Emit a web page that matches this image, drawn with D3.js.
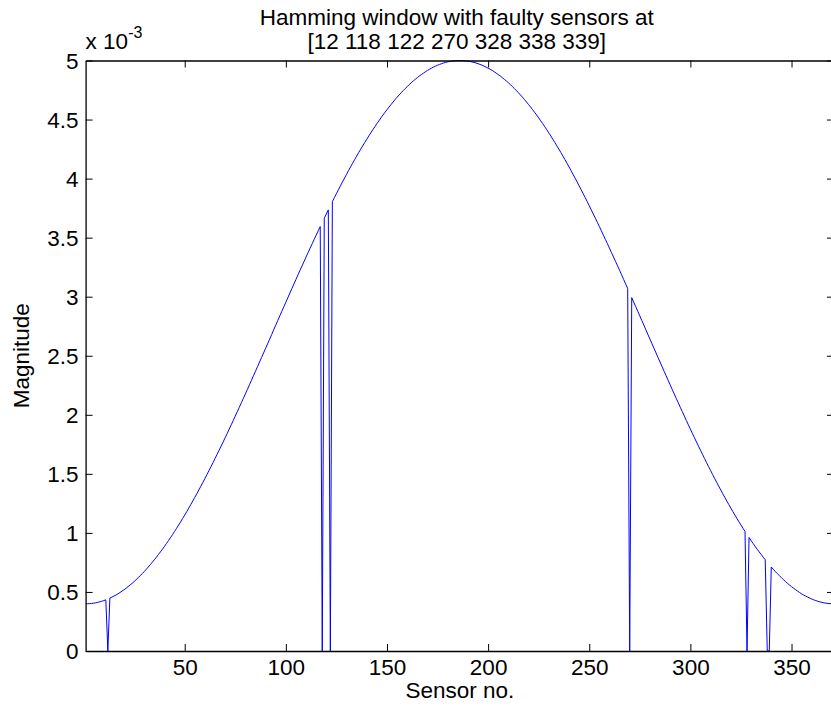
<!DOCTYPE html>
<html>
<head>
<meta charset="utf-8">
<script src="https://cdn.jsdelivr.net/npm/d3@7"></script>
<style>
  html, body { margin: 0; padding: 0; background: #ffffff; }
  svg { display: block; }
  text { font-family: "Liberation Sans", Arial, Helvetica, sans-serif; fill: #000; }
</style>
</head>
<body>
<svg id="chart" width="831" height="708"></svg>
<script>
// Magnitude per sensor (sensor 1..371), in units of 1e-3
const magnitude = [
  0.400,0.400,0.401,0.403,0.405,0.408,0.412,0.416,0.421,0.427,
  0.433,0,0.448,0.456,0.465,0.474,0.484,0.495,0.507,0.519,
  0.531,0.545,0.559,0.573,0.588,0.604,0.621,0.638,0.655,0.673,
  0.692,0.711,0.731,0.752,0.773,0.794,0.817,0.839,0.862,0.886,
  0.911,0.935,0.961,0.986,1.013,1.039,1.067,1.094,1.123,1.151,
  1.180,1.210,1.240,1.270,1.301,1.332,1.364,1.396,1.428,1.461,
  1.494,1.528,1.561,1.595,1.630,1.665,1.700,1.735,1.770,1.806,
  1.842,1.879,1.915,1.952,1.989,2.027,2.064,2.102,2.139,2.177,
  2.215,2.254,2.292,2.331,2.369,2.408,2.447,2.485,2.524,2.563,
  2.602,2.641,2.680,2.720,2.759,2.798,2.837,2.876,2.915,2.953,
  2.992,3.031,3.069,3.108,3.146,3.185,3.223,3.261,3.298,3.336,
  3.373,3.411,3.448,3.485,3.521,3.558,3.594,0,3.665,3.700,
  3.735,0,3.805,3.839,3.872,3.906,3.939,3.972,4.004,4.036,
  4.068,4.099,4.130,4.160,4.190,4.220,4.249,4.277,4.306,4.333,
  4.361,4.387,4.414,4.439,4.465,4.489,4.514,4.538,4.561,4.583,
  4.606,4.627,4.648,4.669,4.689,4.708,4.727,4.745,4.762,4.779,
  4.796,4.812,4.827,4.841,4.855,4.869,4.881,4.893,4.905,4.916,
  4.926,4.935,4.944,4.952,4.960,4.967,4.973,4.979,4.984,4.988,
  4.992,4.995,4.997,4.999,5.000,5.000,5.000,4.999,4.997,4.995,
  4.992,4.988,4.984,4.979,4.973,4.967,4.960,4.952,4.944,4.935,
  4.926,4.916,4.905,4.893,4.881,4.869,4.855,4.841,4.827,4.812,
  4.796,4.779,4.762,4.745,4.727,4.708,4.689,4.669,4.648,4.627,
  4.606,4.583,4.561,4.538,4.514,4.489,4.465,4.439,4.414,4.387,
  4.361,4.333,4.306,4.277,4.249,4.220,4.190,4.160,4.130,4.099,
  4.068,4.036,4.004,3.972,3.939,3.906,3.872,3.839,3.805,3.770,
  3.735,3.700,3.665,3.630,3.594,3.558,3.521,3.485,3.448,3.411,
  3.373,3.336,3.298,3.261,3.223,3.185,3.146,3.108,3.069,0,
  2.992,2.953,2.915,2.876,2.837,2.798,2.759,2.720,2.680,2.641,
  2.602,2.563,2.524,2.485,2.447,2.408,2.369,2.331,2.292,2.254,
  2.215,2.177,2.139,2.102,2.064,2.027,1.989,1.952,1.915,1.879,
  1.842,1.806,1.770,1.735,1.700,1.665,1.630,1.595,1.561,1.528,
  1.494,1.461,1.428,1.396,1.364,1.332,1.301,1.270,1.240,1.210,
  1.180,1.151,1.123,1.094,1.067,1.039,1.013,0,0.961,0.935,
  0.911,0.886,0.862,0.839,0.817,0.794,0.773,0,0,0.711,
  0.692,0.673,0.655,0.638,0.621,0.604,0.588,0.573,0.559,0.545,
  0.531,0.519,0.507,0.495,0.484,0.474,0.465,0.456,0.448,0.440,
  0.433,0.427,0.421,0.416,0.412,0.408,0.405,0.403,0.401,0.400,
  0.400
];
const faultySensors = [12, 118, 122, 270, 328, 338, 339];
const xTickValues = [50, 100, 150, 200, 250, 300, 350];
const yTickValues = [0, 0.5, 1, 1.5, 2, 2.5, 3, 3.5, 4, 4.5, 5];
const xDomain = [1, 371];
const yDomain = [0, 5];
const titleLine1 = "Hamming window with faulty sensors at";
const xLabel = "Sensor no.";
const yLabel = "Magnitude";

const sensors = magnitude.map((v, i) => ({ sensor: i + 1, value: v }));

const svg = d3.select("#chart");
const W = 831, H = 708;
const plot = { left: 85.6, right: 834, top: 60.5, bottom: 651 };
const FS = 22.5;

svg.append("rect").attr("width", W).attr("height", H).attr("fill", "#fff");

const x = d3.scaleLinear().domain(xDomain).range([plot.left, plot.right]);
const y = d3.scaleLinear().domain(yDomain).range([plot.bottom, plot.top]);

// data line
const line = d3.line().x(d => x(d.sensor)).y(d => y(d.value));
svg.append("path")
  .datum(sensors)
  .attr("fill", "none")
  .attr("stroke", "#0000ff")
  .attr("stroke-width", 1)
  .attr("d", line);

const tickLen = 7;
const gx = svg.append("g").attr("transform", `translate(0,${plot.bottom})`)
  .call(d3.axisBottom(x).tickValues(xTickValues).tickSize(-tickLen).tickPadding(0).tickSizeOuter(0));
const gxt = svg.append("g").attr("transform", `translate(0,${plot.top})`)
  .call(d3.axisTop(x).tickValues(xTickValues).tickSize(-tickLen).tickFormat("").tickSizeOuter(0));
const gy = svg.append("g").attr("transform", `translate(${plot.left},0)`)
  .call(d3.axisLeft(y).tickValues(yTickValues).tickSize(-tickLen).tickPadding(0).tickSizeOuter(0)
    .tickFormat(d => d3.format("")(d)));
const gyr = svg.append("g").attr("transform", `translate(${plot.right},0)`)
  .call(d3.axisRight(y).tickValues(yTickValues).tickSize(-tickLen).tickFormat("").tickSizeOuter(0));

[gx, gxt, gy, gyr].forEach(g => {
  g.select(".domain").attr("stroke", "#000").attr("stroke-width", 1.3);
  g.selectAll(".tick line").attr("stroke", "#000").attr("stroke-width", 1);
  g.selectAll("text").attr("font-size", FS).attr("font-family", null).attr("fill", "#000");
});
gx.selectAll(".tick text").attr("y", 24).attr("dy", null);
gy.selectAll(".tick text").attr("x", -7).attr("dy", "0.35em");

svg.append("text").attr("x", (plot.left + plot.right) / 2).attr("y", 698)
  .attr("text-anchor", "middle").attr("font-size", FS).text(xLabel);
svg.append("text").attr("transform", `translate(29,${(plot.top + plot.bottom) / 2}) rotate(-90)`)
  .attr("text-anchor", "middle").attr("font-size", FS).text(yLabel);

const tcx = (plot.left + plot.right) / 2 - 3;
svg.append("text").attr("x", tcx).attr("y", 25).attr("text-anchor", "middle")
  .attr("font-size", FS).text(titleLine1);
svg.append("text").attr("x", tcx).attr("y", 49).attr("text-anchor", "middle")
  .attr("font-size", FS).text("[" + faultySensors.join(" ") + "]");

const ex = svg.append("text").attr("x", plot.left).attr("y", 49).attr("font-size", FS);
ex.append("tspan").text("x 10");
ex.append("tspan").attr("dy", -11).attr("font-size", 16).text("-3");
</script>
</body>
</html>
